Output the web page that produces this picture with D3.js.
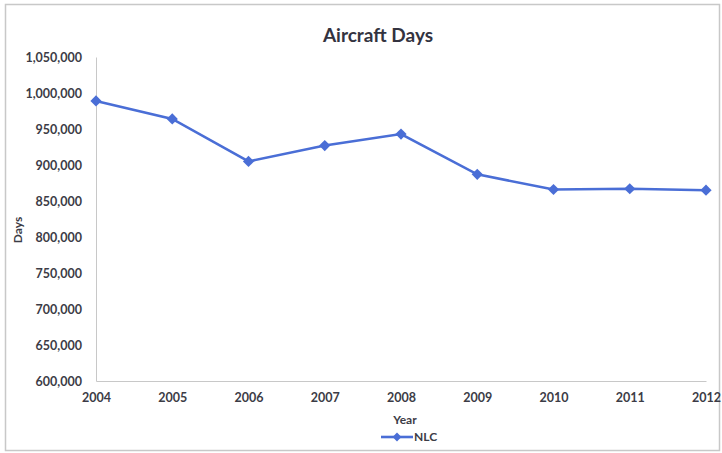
<!DOCTYPE html>
<html><head><meta charset="utf-8">
<script src="https://cdn.jsdelivr.net/npm/d3@7"></script>
<style>body{margin:0;background:#fff}svg{display:block}</style>
</head><body>
<script>
const years = ["2004","2005","2006","2007","2008","2009","2010","2011","2012"];
const nlc = [989000, 964000, 905000, 927000, 943000, 887000, 866000, 867000, 865000];
const yTicks = [600000,650000,700000,750000,800000,850000,900000,950000,1000000,1050000];
const title = "Aircraft Days", xTitle = "Year", yTitle = "Days", seriesName = "NLC";

const W = 722, H = 453;
const svg = d3.select("body").append("svg").attr("width", W).attr("height", H);
const font = "Lato, 'Open Sans', sans-serif";
const txt = "#3c3c46", blue = "#4a6ed6";

svg.append("rect").attr("x", 5.5).attr("y", 4.5).attr("width", 714).attr("height", 446)
  .attr("fill", "#fff").attr("stroke", "#c8c8c8").attr("stroke-width", 1.5);

const x = d3.scalePoint().domain(years).range([96, 706]);
const y = d3.scaleLinear().domain([600000, 1050000]).range([381, 57]);

const ya = svg.append("g").attr("transform", "translate(96,0)")
  .call(d3.axisLeft(y).tickValues(yTicks).tickSize(0).tickPadding(14).tickFormat(d3.format(",")));
ya.select(".domain").attr("stroke", "#c8c8c8");
ya.selectAll("text").attr("font-family", font).attr("font-size", 12.5).attr("font-weight", "bold").attr("fill", txt);

const xa = svg.append("g").attr("transform", "translate(0,381)")
  .call(d3.axisBottom(x).tickSize(0).tickPadding(12));
xa.select(".domain").attr("stroke", "#c8c8c8");
xa.selectAll("text").attr("font-family", font).attr("font-size", 12.5).attr("font-weight", "bold").attr("fill", txt);

svg.append("text").attr("x", 378).attr("y", 42).attr("text-anchor", "middle")
  .attr("font-family", font).attr("font-size", 19).attr("font-weight", "bold").attr("fill", "#333340").text(title);
svg.append("text").attr("x", 405).attr("y", 424).attr("text-anchor", "middle")
  .attr("font-family", font).attr("font-size", 12).attr("font-weight", "bold").attr("fill", txt).text(xTitle);
svg.append("text").attr("transform", "translate(22,230) rotate(-90)").attr("text-anchor", "middle")
  .attr("font-family", font).attr("font-size", 12).attr("font-weight", "bold").attr("fill", txt).text(yTitle);

const line = d3.line().x((d, i) => x(years[i])).y(d => y(d));
svg.append("path").datum(nlc).attr("d", line).attr("fill", "none").attr("stroke", blue).attr("stroke-width", 2.6);
const diamond = d3.symbol().type(d3.symbolDiamond2).size(80);
svg.selectAll(".pt").data(nlc).join("path").attr("class", "pt")
  .attr("transform", (d, i) => `translate(${x(years[i])},${y(d)})`)
  .attr("d", diamond).attr("fill", blue);

const lg = svg.append("g");
lg.append("line").attr("x1", 381).attr("x2", 413).attr("y1", 437).attr("y2", 437).attr("stroke", blue).attr("stroke-width", 2.6);
lg.append("path").attr("transform", "translate(397,437)").attr("d", d3.symbol().type(d3.symbolDiamond2).size(50)).attr("fill", blue);
lg.append("text").attr("x", 414).attr("y", 441).attr("font-family", font).attr("font-size", 12).attr("font-weight", "bold").attr("fill", txt).text(seriesName);
</script>
</body></html>
